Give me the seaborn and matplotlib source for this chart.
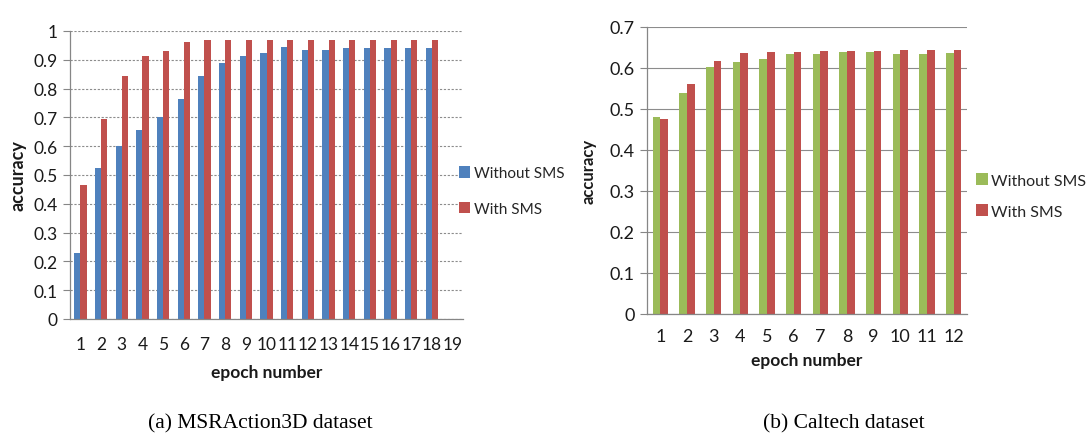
import numpy as np
import pandas as pd
import matplotlib
matplotlib.use("Agg")
import matplotlib.pyplot as plt
import seaborn as sns

# ---- data ----
epochs_a = [str(i) for i in range(1, 20)]
without_a = [0.229, 0.523, 0.599, 0.655, 0.703, 0.763, 0.845, 0.888, 0.914, 0.924,
             0.946, 0.934, 0.934, 0.942, 0.942, 0.942, 0.942, 0.942]
with_a = [0.467, 0.696, 0.843, 0.912, 0.932, 0.962, 0.970, 0.968, 0.970, 0.970,
          0.970, 0.970, 0.970, 0.970, 0.970, 0.970, 0.970, 0.970]

epochs_b = [str(i) for i in range(1, 13)]
without_b = [0.480, 0.539, 0.602, 0.614, 0.622, 0.633, 0.635, 0.639, 0.639, 0.633, 0.635, 0.637]
with_b = [0.476, 0.562, 0.616, 0.637, 0.639, 0.639, 0.642, 0.641, 0.642, 0.645, 0.645, 0.645]

series_names = ["Without SMS", "With SMS"]
yticks_a = [0, 0.1, 0.2, 0.3, 0.4, 0.5, 0.6, 0.7, 0.8, 0.9, 1]
yticks_b = [0, 0.1, 0.2, 0.3, 0.4, 0.5, 0.6, 0.7]

sns.set_theme(style="white")
plt.rcParams['font.family'] = ['Lato', 'DejaVu Sans']

BLUE = "#4F81BD"
RED = "#C0504D"
GREEN = "#9BBB59"
AXC = "#868686"
TXT = "#1a1a1a"

fig = plt.figure(figsize=(10.89, 4.39), dpi=100)
ax1 = fig.add_axes([70/1089, 1-320/439, 393/1089, 288/439])
ax2 = fig.add_axes([647/1089, 1-315/439, 320/1089, 287/439])


def make_df(epochs, w, s):
    n = len(w)
    return pd.DataFrame({
        "epoch": epochs[:n] * 2,
        "acc": list(w) + list(s),
        "series": [series_names[0]] * n + [series_names[1]] * n,
    })


def style(ax, epochs, yticks, ymax, grid_ls, grid_c, fs, xpad):
    ax.set_ylim(0, ymax)
    ax.set_xlim(-0.5, len(epochs) - 0.5)
    ax.set_yticks(yticks)
    ax.set_yticklabels([("%g" % t) for t in yticks], fontsize=fs, color=TXT)
    ax.set_xticks(range(len(epochs)))
    ax.set_xticklabels(epochs, fontsize=fs, color=TXT)
    ax.set_xticks(np.arange(-0.5, len(epochs), 1.0), minor=True)
    ax.tick_params(axis="x", which="major", length=0, pad=xpad)
    ax.tick_params(axis="x", which="minor", length=5, width=0.8, color=AXC, direction="out")
    ax.tick_params(axis="y", length=5, width=0.8, color=AXC, direction="out", pad=4, left=True)
    ax.yaxis.grid(True, linestyle=grid_ls, color=grid_c, linewidth=0.8)
    ax.set_axisbelow(True)
    for sp in ["top", "right"]:
        ax.spines[sp].set_visible(False)
    for sp in ["left", "bottom"]:
        ax.spines[sp].set_color(AXC)
        ax.spines[sp].set_linewidth(0.9)


df_a = make_df(epochs_a, without_a, with_a)
sns.barplot(data=df_a, x="epoch", y="acc", hue="series", order=epochs_a,
            hue_order=series_names, palette=[BLUE, RED], width=0.6,
            ax=ax1, saturation=1, linewidth=0, errorbar=None)
style(ax1, epochs_a, yticks_a, 1.0, (0, (2, 1.5)), "#8c8c8c", 12.5, 12)
ax1.set_xlabel("epoch number", fontsize=12.5, fontweight="bold", color=TXT, labelpad=9)
ax1.set_ylabel("accuracy", fontsize=13, fontweight="bold", color=TXT, labelpad=5)
ax1.legend(loc="center left", bbox_to_anchor=(459/1089, 1-192/439),
           bbox_transform=fig.transFigure, frameon=False, fontsize=11,
           handlelength=0.75, handleheight=0.75, handletextpad=0.25, labelspacing=1.4,
           borderaxespad=0, borderpad=0)

df_b = make_df(epochs_b, without_b, with_b)
sns.barplot(data=df_b, x="epoch", y="acc", hue="series", order=epochs_b,
            hue_order=series_names, palette=[GREEN, RED], width=0.58,
            ax=ax2, saturation=1, linewidth=0, errorbar=None)
style(ax2, epochs_b, yticks_b, 0.7, "-", "#8c8c8c", 13, 10)
ax2.set_xlabel("epoch number", fontsize=12.5, fontweight="bold", color=TXT, labelpad=6)
ax2.set_ylabel("accuracy", fontsize=12, fontweight="bold", color=TXT, labelpad=9)
ax2.legend(loc="center left", bbox_to_anchor=(976/1089, 1-197/439),
           bbox_transform=fig.transFigure, frameon=False, fontsize=11.5,
           handlelength=0.75, handleheight=0.75, handletextpad=0.2, labelspacing=1.05,
           borderaxespad=0, borderpad=0)

fig.text(260/1089, 1-424/439, "(a) MSRAction3D dataset", ha="center", va="center",
         fontsize=15.5, family=["Liberation Serif"], color="black")
fig.text(844/1089, 1-424/439, "(b) Caltech dataset", ha="center", va="center",
         fontsize=15.5, family=["Liberation Serif"], color="black")

fig.savefig("out.png", dpi=100, facecolor="white")
